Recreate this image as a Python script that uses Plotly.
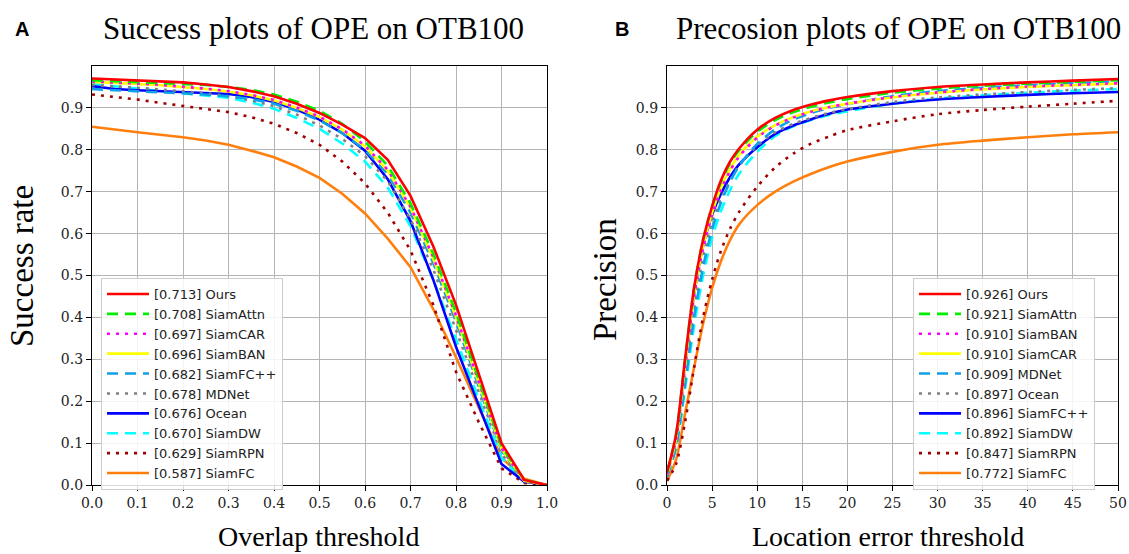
import plotly.graph_objects as go

# ---------------- data: success plot (left) ----------------
overlap_x = [0.0, 0.05, 0.1, 0.15, 0.2, 0.25, 0.3, 0.35, 0.4, 0.45, 0.5,
             0.55, 0.6, 0.65, 0.7, 0.75, 0.8, 0.85, 0.9, 0.95, 1.0]

succ_names = ["[0.713] Ours", "[0.708] SiamAttn", "[0.697] SiamCAR", "[0.696] SiamBAN",
              "[0.682] SiamFC++", "[0.678] MDNet", "[0.676] Ocean", "[0.670] SiamDW",
              "[0.629] SiamRPN", "[0.587] SiamFC"]

succ_ours     = [0.970, 0.968, 0.966, 0.964, 0.961, 0.956, 0.950, 0.940, 0.928, 0.910, 0.888, 0.860, 0.828, 0.776, 0.690, 0.570, 0.430, 0.265, 0.100, 0.012, 0.0]
succ_siamattn = [0.966, 0.964, 0.962, 0.960, 0.958, 0.955, 0.950, 0.943, 0.932, 0.915, 0.893, 0.862, 0.820, 0.762, 0.672, 0.552, 0.412, 0.252, 0.092, 0.012, 0.0]
succ_siamcar  = [0.963, 0.961, 0.958, 0.955, 0.951, 0.946, 0.940, 0.931, 0.919, 0.901, 0.879, 0.849, 0.810, 0.752, 0.664, 0.544, 0.404, 0.244, 0.088, 0.010, 0.0]
succ_siamban  = [0.962, 0.960, 0.957, 0.954, 0.950, 0.945, 0.939, 0.930, 0.918, 0.900, 0.878, 0.848, 0.808, 0.750, 0.662, 0.540, 0.400, 0.242, 0.086, 0.010, 0.0]
succ_siamfcpp = [0.945, 0.942, 0.939, 0.937, 0.935, 0.932, 0.928, 0.921, 0.910, 0.893, 0.870, 0.840, 0.800, 0.742, 0.650, 0.530, 0.390, 0.235, 0.082, 0.010, 0.0]
succ_mdnet    = [0.955, 0.952, 0.948, 0.944, 0.940, 0.935, 0.928, 0.918, 0.904, 0.884, 0.858, 0.826, 0.785, 0.725, 0.635, 0.515, 0.370, 0.220, 0.075, 0.008, 0.0]
succ_ocean    = [0.952, 0.945, 0.942, 0.940, 0.938, 0.936, 0.933, 0.926, 0.914, 0.896, 0.872, 0.840, 0.798, 0.730, 0.630, 0.490, 0.330, 0.190, 0.050, 0.008, 0.0]
succ_siamdw   = [0.957, 0.952, 0.946, 0.940, 0.935, 0.930, 0.924, 0.913, 0.898, 0.876, 0.850, 0.815, 0.772, 0.710, 0.618, 0.490, 0.345, 0.205, 0.065, 0.008, 0.0]
succ_siamrpn  = [0.932, 0.926, 0.920, 0.912, 0.905, 0.898, 0.890, 0.878, 0.862, 0.840, 0.812, 0.772, 0.720, 0.650, 0.560, 0.430, 0.270, 0.150, 0.040, 0.005, 0.0]
succ_siamfc   = [0.855, 0.848, 0.842, 0.836, 0.830, 0.822, 0.812, 0.798, 0.782, 0.760, 0.733, 0.695, 0.648, 0.588, 0.520, 0.420, 0.305, 0.185, 0.065, 0.015, 0.0]

succ_series = [succ_ours, succ_siamattn, succ_siamcar, succ_siamban, succ_siamfcpp,
               succ_mdnet, succ_ocean, succ_siamdw, succ_siamrpn, succ_siamfc]

# ---------------- data: precision plot (right) ----------------
loc_x = [0, 1, 2, 3, 4, 5, 6, 7, 8, 10, 12, 14, 16, 18, 20, 25, 30, 35, 40, 45, 50]

prec_names = ["[0.926] Ours", "[0.921] SiamAttn", "[0.910] SiamBAN", "[0.910] SiamCAR",
              "[0.909] MDNet", "[0.897] Ocean", "[0.896] SiamFC++", "[0.892] SiamDW",
              "[0.847] SiamRPN", "[0.772] SiamFC"]

prec_ours     = [0.030, 0.120, 0.300, 0.470, 0.585, 0.665, 0.728, 0.772, 0.803, 0.848, 0.876, 0.895, 0.908, 0.918, 0.926, 0.940, 0.950, 0.956, 0.961, 0.965, 0.969]
prec_siamattn = [0.030, 0.120, 0.300, 0.470, 0.585, 0.665, 0.724, 0.768, 0.799, 0.843, 0.871, 0.890, 0.903, 0.913, 0.921, 0.936, 0.946, 0.953, 0.958, 0.962, 0.966]
prec_siamban  = [0.025, 0.110, 0.280, 0.450, 0.565, 0.645, 0.705, 0.750, 0.784, 0.829, 0.858, 0.877, 0.891, 0.902, 0.910, 0.926, 0.937, 0.945, 0.951, 0.955, 0.959]
prec_siamcar  = [0.025, 0.110, 0.285, 0.455, 0.570, 0.650, 0.710, 0.754, 0.788, 0.831, 0.859, 0.878, 0.892, 0.902, 0.910, 0.925, 0.936, 0.944, 0.950, 0.954, 0.958]
prec_mdnet    = [0.020, 0.090, 0.240, 0.400, 0.520, 0.610, 0.675, 0.724, 0.762, 0.814, 0.849, 0.872, 0.888, 0.900, 0.909, 0.928, 0.940, 0.948, 0.954, 0.959, 0.963]
prec_ocean    = [0.020, 0.100, 0.260, 0.420, 0.545, 0.628, 0.684, 0.727, 0.762, 0.810, 0.842, 0.862, 0.876, 0.888, 0.897, 0.914, 0.925, 0.932, 0.938, 0.943, 0.947]
prec_siamfcpp = [0.030, 0.110, 0.290, 0.455, 0.570, 0.645, 0.696, 0.735, 0.765, 0.806, 0.838, 0.858, 0.873, 0.886, 0.896, 0.910, 0.920, 0.926, 0.931, 0.935, 0.938]
prec_siamdw   = [0.020, 0.090, 0.230, 0.380, 0.500, 0.590, 0.655, 0.704, 0.743, 0.795, 0.833, 0.856, 0.871, 0.883, 0.892, 0.910, 0.922, 0.930, 0.936, 0.941, 0.945]
prec_siamrpn  = [0.010, 0.050, 0.150, 0.280, 0.400, 0.490, 0.560, 0.612, 0.652, 0.712, 0.758, 0.791, 0.815, 0.832, 0.847, 0.868, 0.885, 0.895, 0.903, 0.910, 0.917]
prec_siamfc   = [0.010, 0.060, 0.170, 0.280, 0.385, 0.470, 0.535, 0.585, 0.622, 0.668, 0.700, 0.724, 0.743, 0.759, 0.772, 0.795, 0.812, 0.822, 0.830, 0.837, 0.842]

prec_series = [prec_ours, prec_siamattn, prec_siamban, prec_siamcar, prec_mdnet,
               prec_ocean, prec_siamfcpp, prec_siamdw, prec_siamrpn, prec_siamfc]

y_ticks = [0, 0.1, 0.2, 0.3, 0.4, 0.5, 0.6, 0.7, 0.8, 0.9]
y_ticktext = ["0.0", "0.1", "0.2", "0.3", "0.4", "0.5", "0.6", "0.7", "0.8", "0.9"]
overlap_ticks = [0, 0.1, 0.2, 0.3, 0.4, 0.5, 0.6, 0.7, 0.8, 0.9, 1.0]
overlap_ticktext = ["0.0", "0.1", "0.2", "0.3", "0.4", "0.5", "0.6", "0.7", "0.8", "0.9", "1.0"]
loc_ticks = [0, 5, 10, 15, 20, 25, 30, 35, 40, 45, 50]

# ---------------- styles (shared by legend order) ----------------
DASH = "11px,7px"
DOT = "3px,6px"
styles = [
    ("#ff0000", "solid"),
    ("#00ee00", DASH),
    ("#ff00ff", DOT),
    ("#ffff00", "solid"),
    ("#10a0e6", DASH),
    ("#808080", DOT),
    ("#0000ff", "solid"),
    ("#00ffff", DASH),
    ("#a00000", DOT),
    ("#ff7f0e", "solid"),
]

fig = go.Figure()

# draw in reverse so "Ours" is on top, but keep legend order
order = list(range(10))[::-1]
for i in order:
    c, d = styles[i]
    fig.add_trace(go.Scatter(
        x=overlap_x, y=succ_series[i], name=succ_names[i], mode="lines",
        line=dict(color=c, dash=d, width=2.6),
        xaxis="x", yaxis="y", legend="legend", legendrank=i + 1))
for i in order:
    c, d = styles[i]
    fig.add_trace(go.Scatter(
        x=loc_x, y=prec_series[i], name=prec_names[i], mode="lines",
        line=dict(color=c, dash=d, width=2.6, shape="spline", smoothing=0.8),
        xaxis="x2", yaxis="y2", legend="legend2", legendrank=i + 1))

W, H = 1129, 554
def px_x(p):
    return p / W
def px_y(p):
    return 1 - p / H

tickfont = dict(family="DejaVu Serif, Liberation Serif, serif", size=14, color="#222")
axis_common = dict(showline=True, linecolor="black", linewidth=1.2, mirror=True,
                   showgrid=True, gridcolor="#b4b4b4", gridwidth=1,
                   ticks="outside", ticklen=5, tickcolor="black", tickwidth=1,
                   tickfont=tickfont, zeroline=False, automargin=False)

legend_font = dict(family="DejaVu Sans, Liberation Sans, sans-serif", size=13, color="#222")
ydom = [px_y(485), px_y(66)]
fig.update_layout(
    width=W, height=H,
    margin=dict(l=0, r=0, t=0, b=0, autoexpand=False),
    paper_bgcolor="white", plot_bgcolor="white",
    xaxis=dict(domain=[px_x(92), px_x(547)], range=[0, 1],
               tickvals=overlap_ticks, ticktext=overlap_ticktext,
               anchor="y", **axis_common),
    yaxis=dict(domain=ydom, range=[0, 1.0],
               tickvals=y_ticks, ticktext=y_ticktext,
               anchor="x", **axis_common),
    xaxis2=dict(domain=[px_x(667), px_x(1118)], range=[0, 50],
                tickvals=loc_ticks,
                anchor="y2", **axis_common),
    yaxis2=dict(domain=ydom, range=[0, 1.0],
                tickvals=y_ticks, ticktext=y_ticktext,
                anchor="x2", **axis_common),
    legend=dict(x=px_x(101), y=px_y(278), xanchor="left", yanchor="top",
                bgcolor="rgba(255,255,255,0.85)", bordercolor="#cccccc", borderwidth=1,
                font=legend_font, tracegroupgap=0, itemwidth=42),
    legend2=dict(x=px_x(913), y=px_y(278), xanchor="left", yanchor="top",
                 bgcolor="rgba(255,255,255,0.85)", bordercolor="#cccccc", borderwidth=1,
                 font=legend_font, tracegroupgap=0, itemwidth=42),
)

serif = "Liberation Serif, Times New Roman, serif"
ann = [
    dict(text="Success plots of OPE on OTB100", x=px_x(313), y=px_y(29), size=31),
    dict(text="Precosion plots of OPE on OTB100", x=px_x(898), y=px_y(29), size=31),
    dict(text="Overlap threshold", x=px_x(318), y=px_y(536), size=28),
    dict(text="Location error threshold", x=px_x(888), y=px_y(536), size=28),
]
for a in ann:
    fig.add_annotation(text=a["text"], x=a["x"], y=a["y"], xref="paper", yref="paper",
                       xanchor="center", yanchor="middle", showarrow=False,
                       font=dict(family=serif, size=a["size"], color="black"))
fig.add_annotation(text="Success rate", x=px_x(22), y=px_y(266), xref="paper", yref="paper",
                   xanchor="center", yanchor="middle", showarrow=False, textangle=-90,
                   font=dict(family=serif, size=33, color="black"))
fig.add_annotation(text="Precision", x=px_x(605), y=px_y(280), xref="paper", yref="paper",
                   xanchor="center", yanchor="middle", showarrow=False, textangle=-90,
                   font=dict(family=serif, size=33, color="black"))
for lab, xx in (("A", 22), ("B", 622)):
    fig.add_annotation(text="<b>%s</b>" % lab, x=px_x(xx), y=px_y(29), xref="paper", yref="paper",
                       xanchor="center", yanchor="middle", showarrow=False,
                       font=dict(family="Liberation Sans, Arial, sans-serif", size=20, color="black"))

fig.write_html("out.html", config={"displayModeBar": False},
               post_script="document.body.style.margin='0px';document.body.style.overflow='hidden';")
